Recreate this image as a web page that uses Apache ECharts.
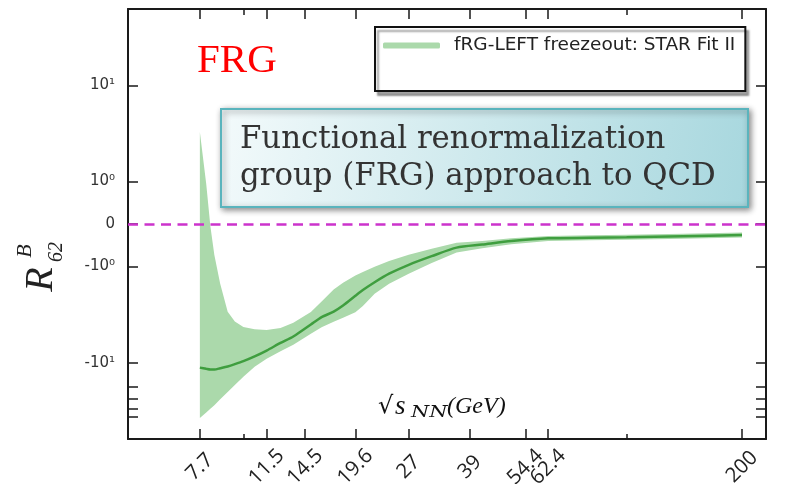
<!DOCTYPE html>
<html>
<head>
<meta charset="utf-8">
<script src="https://cdn.jsdelivr.net/npm/echarts@6/dist/echarts.min.js"></script>
<style>
  html, body { margin: 0; padding: 0; background: #ffffff; }
  #chart { width: 786px; height: 484px; }
</style>
</head>
<body>
<div id="chart"></div>
<script>
// Collision energies (GeV) where the fRG band and central curve are sampled
const energies = [7.7, 8.0, 8.2, 8.4, 8.7, 9.1, 9.5, 10, 10.7, 11.5, 12.5, 13.5, 15, 16, 17.2,
  18.2, 19.6, 20.5, 22, 24, 27, 31, 36, 42, 50, 62.4, 80, 100, 140, 200];

// R62^B central values
const r62Central = [-11.25, -11.58, -11.77, -11.77, -11.41, -10.93, -10.35, -9.63, -8.59, -7.47,
  -6.23, -5.34, -4.01, -3.36, -2.95, -2.55, -2.02, -1.76, -1.46, -1.19,
  -0.961, -0.758, -0.556, -0.485, -0.403, -0.337, -0.325, -0.313, -0.287, -0.259];

// upper (less negative) edge of the uncertainty band
const r62Upper = [3.27, 0.942, -0.047, -0.730, -1.51, -2.95, -3.74, -4.25, -4.49, -4.57,
  -4.35, -3.85, -2.98, -2.31, -1.74, -1.48, -1.24, -1.14, -1.006, -0.869,
  -0.723, -0.584, -0.440, -0.398, -0.337, -0.283, -0.266, -0.254, -0.228, -0.200];

// lower (more negative) edge of the uncertainty band
const r62Lower = [-37.5, -32.8, -30.1, -27.6, -24.0, -20.1, -17.0, -14.0, -11.0, -9.09,
  -7.60, -6.51, -5.01, -4.28, -3.75, -3.42, -2.99, -2.57, -1.92, -1.51,
  -1.19, -0.916, -0.669, -0.572, -0.476, -0.400, -0.384, -0.372, -0.346, -0.318];

// x axis (log scale)
const xTickEnergies = [7.7, 11.5, 14.5, 19.6, 27, 39, 54.4, 62.4, 200];
const xTickLabels = ['7.7', '11.5', '14.5', '19.6', '27', '39', '54.4', '62.4', '200'];
const xMinorEnergies = [10, 100];
const xRange = [5, 231];

// y axis (symmetric log scale)
const yTickValues = [10, 1, 0, -1, -10];
const yTickLabels = ['10\u00b9', '10\u2070', '0', '-10\u2070', '-10\u00b9'];
const yMinorValues = [-17.7, -23.9, -30.4, -36.3];
const yLimit = 62;

const seriesName = 'fRG-LEFT freezeout: STAR Fit II';

// symlog transform: logarithmic beyond |v| = 1, linear inside
const LIN = 0.441;
function symlog(v) {
  const a = Math.abs(v);
  return a >= 1 ? Math.sign(v) * (Math.log10(a) + LIN) : v * LIN;
}
const lg = Math.log10;

const xs = energies.map(lg);
const lowerT = r62Lower.map(symlog);
const upperT = r62Upper.map(symlog);

const xMajor = xTickEnergies.map(lg);
const xMinor = xMinorEnergies.map(lg);
const yMajor = yTickValues.map(symlog);
const yAll = yMajor.concat(yMinorValues.map(symlog));

function nearestLabel(v, ticks, labels) {
  let best = 0;
  for (let i = 1; i < ticks.length; i++) {
    if (Math.abs(ticks[i] - v) < Math.abs(ticks[best] - v)) best = i;
  }
  return labels[best];
}

const frame = { show: true, onZero: false, lineStyle: { color: '#1a1a1a', width: 2 } };
const noLine = { show: false, onZero: false };
const tickLine = { color: '#1a1a1a', width: 1.5 };
const xBase = { type: 'value', min: lg(xRange[0]), max: lg(xRange[1]), gridIndex: 0, splitLine: { show: false } };
const yBase = { type: 'value', min: symlog(-yLimit), max: symlog(yLimit), splitLine: { show: false } };

const chart = echarts.init(document.getElementById('chart'), null, { renderer: 'canvas' });

chart.setOption({
  animation: false,
  backgroundColor: '#ffffff',
  textStyle: { fontFamily: 'DejaVu Sans' },
  grid: { left: 128, right: 20, top: 9, bottom: 45, containLabel: false, outerBoundsMode: 'none' },
  xAxis: [
    Object.assign({}, xBase, {
      position: 'bottom',
      axisLine: frame,
      axisTick: { show: true, inside: true, length: 10, customValues: xMajor, lineStyle: tickLine },
      axisLabel: {
        show: true, customValues: xMajor, rotate: 45, align: 'center', verticalAlign: 'middle', margin: 28,
        fontFamily: 'Open Sans', fontSize: 20.5, color: '#222222',
        formatter: v => nearestLabel(v, xMajor, xTickLabels)
      }
    }),
    Object.assign({}, xBase, {
      position: 'bottom',
      axisLine: noLine,
      axisTick: { show: true, inside: true, length: 5, customValues: xMinor, lineStyle: tickLine },
      axisLabel: { show: false }
    }),
    Object.assign({}, xBase, {
      position: 'top',
      axisLine: frame,
      axisTick: { show: true, inside: true, length: 10, customValues: xMajor, lineStyle: tickLine },
      axisLabel: { show: false }
    }),
    Object.assign({}, xBase, {
      position: 'top',
      axisLine: noLine,
      axisTick: { show: true, inside: true, length: 6, customValues: xMinor, lineStyle: tickLine },
      axisLabel: { show: false }
    })
  ],
  yAxis: [
    Object.assign({}, yBase, {
      position: 'left',
      axisLine: frame,
      axisTick: { show: true, inside: true, length: 10, customValues: yAll, lineStyle: tickLine },
      axisLabel: {
        show: true, customValues: yMajor, margin: 13,
        fontFamily: 'DejaVu Sans', fontSize: 15, color: '#333333',
        formatter: v => nearestLabel(v, yMajor, yTickLabels)
      }
    }),
    Object.assign({}, yBase, {
      position: 'right',
      axisLine: frame,
      axisTick: { show: true, inside: true, length: 10, customValues: yAll, lineStyle: tickLine },
      axisLabel: { show: false }
    })
  ],
  legend: {
    data: [{ name: seriesName, icon: 'roundRect' }],
    selectedMode: false,
    left: 375, top: 27,
    padding: [9, 10, 36, 8],
    itemWidth: 57, itemHeight: 6,
    backgroundColor: '#ffffff',
    borderColor: '#111111', borderWidth: 2, borderRadius: 0,
    shadowColor: 'rgba(0,0,0,0.35)', shadowBlur: 2, shadowOffsetX: 3, shadowOffsetY: 4,
    textStyle: { fontFamily: 'DejaVu Sans', fontSize: 18.5, color: '#222222', padding: [0, 0, 0, 9] }
  },
  series: [
    {
      // uncertainty band: one polygon through the upper edge and back along the lower edge
      name: seriesName, type: 'custom', z: 2, silent: true,
      itemStyle: { color: '#abd9ab' },
      data: xs.map((x, i) => [x, lowerT[i], upperT[i]]),
      encode: { x: 0, y: [1, 2] },
      renderItem: (params, api) => {
        if (params.dataIndex !== 0) return null;
        const pts = [];
        for (let i = 0; i < xs.length; i++) pts.push(api.coord([xs[i], upperT[i]]));
        for (let i = xs.length - 1; i >= 0; i--) pts.push(api.coord([xs[i], lowerT[i]]));
        return { type: 'polygon', shape: { points: pts }, style: { fill: '#abd9ab' } };
      }
    },
    {
      name: 'central', type: 'line',
      data: xs.map((x, i) => [x, symlog(r62Central[i])]),
      symbol: 'none', silent: true, z: 3, smooth: 0.25,
      lineStyle: { color: '#3f9e3f', width: 2.5 },
      markLine: {
        silent: true, symbol: ['none', 'none'], z: 5,
        label: { show: false },
        lineStyle: { color: '#cc33cc', width: 2.5, type: [10, 6.5] },
        data: [{ yAxis: symlog(0) }]
      }
    }
  ],
  graphic: [
    {
      type: 'text', x: 197, y: 61, z: 10,
      style: { text: 'FRG', font: '41px "Liberation Serif"', fill: '#ff0000',
        align: 'left', verticalAlign: 'middle', textAlign: 'left', textVerticalAlign: 'middle' }
    },
    {
      type: 'rect', z: 10,
      shape: { x: 221, y: 109, width: 527, height: 98 },
      style: {
        fill: new echarts.graphic.LinearGradient(0, 0, 1, 1, [
          { offset: 0, color: '#f3fafb' },
          { offset: 1, color: '#a7d7de' }
        ]),
        stroke: '#5ab4bd', lineWidth: 2,
        shadowBlur: 6, shadowColor: 'rgba(0,0,0,0.45)', shadowOffsetX: 2, shadowOffsetY: 2
      }
    },
    {
      type: 'text', x: 240, y: 139.5, z: 11,
      style: { text: 'Functional renormalization', font: '30.8px "DejaVu Serif"', fill: '#333333',
        align: 'left', verticalAlign: 'middle', textAlign: 'left', textVerticalAlign: 'middle' }
    },
    {
      type: 'text', x: 240, y: 176.5, z: 11,
      style: { text: 'group (FRG) approach to QCD', font: '30.8px "DejaVu Serif"', fill: '#333333',
        align: 'left', verticalAlign: 'middle', textAlign: 'left', textVerticalAlign: 'middle' }
    },
    // y-axis title R^B_62, reading bottom to top
    {
      type: 'text', x: 41, y: 279.5, rotation: Math.PI / 2, z: 10,
      style: { text: 'R', font: 'italic 40px "Liberation Serif"', fill: '#222222',
        align: 'center', verticalAlign: 'middle', textAlign: 'center', textVerticalAlign: 'middle' }
    },
    {
      type: 'text', x: 25.5, y: 251, rotation: Math.PI / 2, z: 10,
      style: { text: 'B', font: 'italic 22px "Liberation Serif"', fill: '#222222',
        align: 'center', verticalAlign: 'middle', textAlign: 'center', textVerticalAlign: 'middle' }
    },
    {
      type: 'text', x: 56.5, y: 252, rotation: Math.PI / 2, z: 10,
      style: { text: '62', font: 'italic 20px "Liberation Serif"', fill: '#222222',
        align: 'center', verticalAlign: 'middle', textAlign: 'center', textVerticalAlign: 'middle' }
    },
    // x-axis title √s_NN (GeV)
    {
      type: 'text', x: 378, y: 407, z: 10,
      style: { text: '\u221a', font: '24px "DejaVu Serif"', fill: '#111111',
        align: 'left', verticalAlign: 'middle', textAlign: 'left', textVerticalAlign: 'middle' }
    },
    {
      type: 'text', x: 395, y: 406.5, z: 10,
      style: { text: 's', font: 'italic 27px "Liberation Serif"', fill: '#111111',
        align: 'left', verticalAlign: 'middle', textAlign: 'left', textVerticalAlign: 'middle' }
    },
    {
      type: 'text', x: 411, y: 412.5, z: 10, scaleX: 1.3,
      style: { text: 'NN', font: 'italic 16px "DejaVu Serif"', fill: '#111111',
        align: 'left', verticalAlign: 'middle', textAlign: 'left', textVerticalAlign: 'middle' }
    },
    {
      type: 'text', x: 447, y: 406.5, z: 10,
      style: { text: '(GeV)', font: 'italic 24px "Liberation Serif"', fill: '#111111',
        align: 'left', verticalAlign: 'middle', textAlign: 'left', textVerticalAlign: 'middle' }
    }
  ]
});
</script>
</body>
</html>
